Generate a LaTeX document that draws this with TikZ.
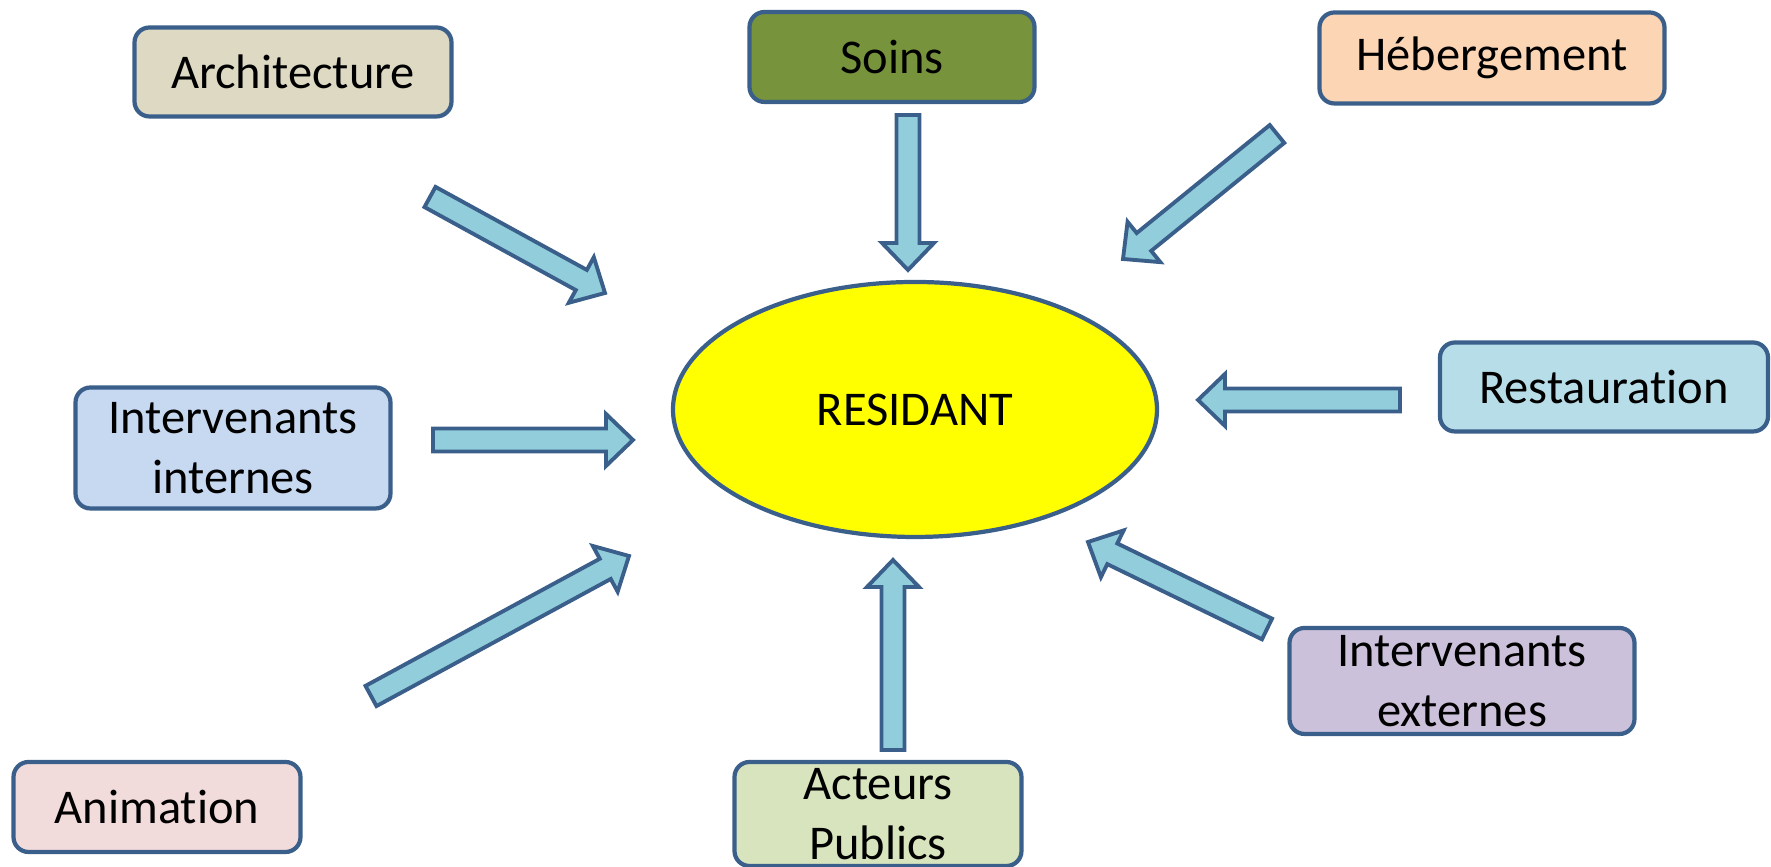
\documentclass[tikz,border=0pt]{standalone}
\usepackage{fontspec}
\setmainfont{Carlito}[Ligatures=NoCommon]
\usepackage{tikz}
\usetikzlibrary{calc,shapes.geometric}

\definecolor{edgeblue}{HTML}{3A5F8B}
\definecolor{arrowfill}{HTML}{92CDDC}
\definecolor{resfill}{HTML}{FFFF00}
\definecolor{archfill}{HTML}{DDD9C3}
\definecolor{soinsfill}{HTML}{77933C}
\definecolor{hebergfill}{HTML}{FCD5B5}
\definecolor{restofill}{HTML}{B7DEE8}
\definecolor{intintfill}{HTML}{C6D9F1}
\definecolor{intextfill}{HTML}{CCC1DA}
\definecolor{animfill}{HTML}{F2DCDB}
\definecolor{acteurfill}{HTML}{D7E4BD}

\newcommand{\blockarrow}[2]{%
    \coordinate (#1h) at ($(#2)!0.27cm!(#1)$);
    \draw [blockarrow] ($(#1)!0.115cm!90:(#2)$) -- ($(#1h)!0.115cm!90:(#2)$)
        -- ($(#1h)!0.26cm!90:(#2)$) -- (#2) -- ($(#1h)!0.26cm!-90:(#2)$)
        -- ($(#1h)!0.115cm!-90:(#2)$) -- ($(#1)!0.115cm!-90:(#2)$) -- cycle;
}

\begin{document}
\begin{tikzpicture}[
                    font=\fontsize{13.8}{17}\selectfont,
                    box/.style={draw=edgeblue, line width=1.2pt, rounded corners=0.15cm,
                                inner sep=0, align=center},
                    blockarrow/.style={draw=edgeblue, fill=arrowfill, line width=1.1pt,
                                       line join=miter}]
                \useasboundingbox (0,0) rectangle (17.71,8.67);

                \node (res) [draw=edgeblue, line width=1.2pt, fill=resfill, ellipse,
                             minimum width=4.84cm, minimum height=2.55cm] at (9.15,4.575) {RESIDANT};

                \node (arch) [box, fill=archfill, minimum width=3.17cm, minimum height=0.89cm] at (2.93,7.95) {Architecture};
                \node (soins) [box, fill=soinsfill, minimum width=2.85cm, minimum height=0.9cm] at (8.92,8.1) {Soins};
                \node (heberg) [box, fill=hebergfill, minimum width=3.45cm, minimum height=0.91cm] at (14.92,8.09) {Hébergement};
                \node (resto) [box, fill=restofill, minimum width=3.28cm, minimum height=0.89cm] at (16.04,4.8) {Restauration};
                \node (intint) [box, fill=intintfill, minimum width=3.15cm, minimum height=1.21cm] at (2.33,4.19) {Intervenants\\internes};
                \node (intext) [box, fill=intextfill, minimum width=3.45cm, minimum height=1.06cm] at (14.62,1.86) {Intervenants\\externes};
                \node (anim) [box, fill=animfill, minimum width=2.87cm, minimum height=0.9cm] at (1.57,0.6) {Animation};
                \node (acteur) [box, fill=acteurfill, minimum width=2.87cm, minimum height=1.04cm] at (8.78,0.53) {Acteurs\\Publics};

                \coordinate (archa) at (4.3,6.7);     \coordinate (archb) at (6.05,5.74);
                \coordinate (soinsa) at (9.08,7.52);  \coordinate (soinsb) at (9.08,5.97);
                \coordinate (heberga) at (12.77,7.33); \coordinate (hebergb) at (11.23,6.08);
                \coordinate (restoa) at (14,4.67);    \coordinate (restob) at (11.98,4.67);
                \coordinate (intinta) at (4.33,4.27); \coordinate (intintb) at (6.33,4.27);
                \coordinate (intexta) at (12.67,2.38); \coordinate (intextb) at (10.88,3.25);
                \coordinate (acteura) at (8.93,1.17); \coordinate (acteurb) at (8.93,3.07);
                \coordinate (anima) at (3.71,1.71);   \coordinate (animb) at (6.29,3.11);

                \blockarrow{archa}{archb}
                \blockarrow{soinsa}{soinsb}
                \blockarrow{heberga}{hebergb}
                \blockarrow{restoa}{restob}
                \blockarrow{intinta}{intintb}
                \blockarrow{intexta}{intextb}
                \blockarrow{acteura}{acteurb}
                \blockarrow{anima}{animb}
            \end{tikzpicture}
\end{document}
